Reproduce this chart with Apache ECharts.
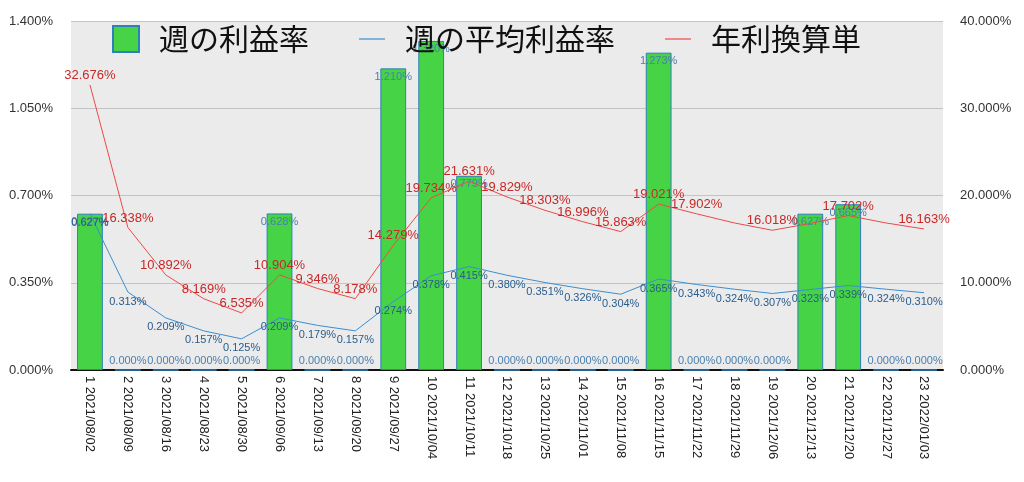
<!DOCTYPE html>
<html>
<head>
<meta charset="utf-8">
<script src="https://cdn.jsdelivr.net/npm/echarts@6/dist/echarts.min.js"></script>
<style>html,body{margin:0;padding:0;background:#fff;}#c{width:1024px;height:482px;}</style>
</head>
<body>
<div id="c"></div>
<script>
const categories = ["1 2021/08/02","2 2021/08/09","3 2021/08/16","4 2021/08/23","5 2021/08/30","6 2021/09/06","7 2021/09/13","8 2021/09/20","9 2021/09/27","10 2021/10/04","11 2021/10/11","12 2021/10/18","13 2021/10/25","14 2021/11/01","15 2021/11/08","16 2021/11/15","17 2021/11/22","18 2021/11/29","19 2021/12/06","20 2021/12/13","21 2021/12/20","22 2021/12/27","23 2022/01/03"];
const weeklyRate = [0.627,0,0,0,0,0.628,0,0,1.210,1.320,0.779,0,0,0,0,1.273,0,0,0,0.627,0.665,0,0];
const averageRate = [0.627,0.313,0.209,0.157,0.125,0.209,0.179,0.157,0.274,0.378,0.415,0.380,0.351,0.326,0.304,0.365,0.343,0.324,0.307,0.323,0.339,0.324,0.310];
const annualRate = [32.676,16.338,10.892,8.169,6.535,10.904,9.346,8.178,14.279,19.734,21.631,19.829,18.303,16.996,15.863,19.021,17.902,16.85,16.018,16.80,17.702,16.85,16.163];
const leftTicks = {min:0, max:1.4, interval:0.35};
const rightTicks = {min:0, max:40, interval:10};
const seriesNames = ["週の利益率","週の平均利益率","年利換算単"];
const hiddenAnnualLabelIdx = [17,19,21];

const numFont = "'Liberation Sans', Arial, Helvetica, sans-serif";
const fmt = v => Number(v).toFixed(3) + '%';
const lineIcon = 'path://M0,0H26V1.2H0Z';

const barData = weeklyRate.map(v => ({
  value: v,
  label: { position: v > 0 ? 'insideTop' : 'top', distance: 3 }
}));
const annualData = annualRate.map((v, i) => ({
  value: v,
  label: { show: hiddenAnnualLabelIdx.indexOf(i) < 0 }
}));

const chart = echarts.init(document.getElementById('c'), null, {renderer:'canvas'});
chart.setOption({
  animation: false,
  backgroundColor: '#ffffff',
  grid: { left: 71, right: 81, top: 21, bottom: 112, show: true, backgroundColor: '#ebebeb', borderWidth: 0, containLabel: false },
  legend: {
    data: [
      { name: seriesNames[0], icon: 'rect' },
      { name: seriesNames[1], icon: lineIcon },
      { name: seriesNames[2], icon: lineIcon }
    ],
    left: 107, top: 19,
    itemWidth: 26, itemHeight: 26, itemGap: 50,
    symbolKeepAspect: true,
    textStyle: { fontSize: 30, color: '#111', fontFamily: "'Noto Sans CJK JP', sans-serif", padding: [0,0,0,15] }
  },
  xAxis: {
    type: 'category', data: categories,
    axisLine: { show: true, lineStyle: { color: '#111', width: 2 } },
    axisTick: { show: false },
    axisLabel: { rotate: -90, interval: 0, fontSize: 13, color: '#222', fontFamily: numFont, margin: 6 },
    splitLine: { show: false }
  },
  yAxis: [
    { type: 'value', min: leftTicks.min, max: leftTicks.max, interval: leftTicks.interval,
      axisLine: { show: false }, axisTick: { show: false },
      axisLabel: { formatter: fmt, fontSize: 13, color: '#333', fontFamily: numFont, margin: 18 },
      splitLine: { show: true, lineStyle: { color: '#c4c4c4', width: 1 } } },
    { type: 'value', min: rightTicks.min, max: rightTicks.max, interval: rightTicks.interval, position: 'right',
      axisLine: { show: false }, axisTick: { show: false },
      axisLabel: { formatter: fmt, fontSize: 13, color: '#333', fontFamily: numFont, margin: 17 },
      splitLine: { show: false } }
  ],
  series: [
    { name: seriesNames[0], type: 'bar', data: barData, yAxisIndex: 0, barWidth: '68%',
      itemStyle: { color: '#46d446', borderColor: '#2f7fba', borderWidth: 1 },
      label: { show: true, formatter: p => fmt(p.value), fontSize: 11, color: '#4a7fae', fontFamily: numFont },
      z: 2 },
    { name: seriesNames[1], type: 'line', data: averageRate, yAxisIndex: 0, symbol: 'circle', symbolSize: 0, showSymbol: true,
      lineStyle: { color: '#3b8fd0', width: 1 }, itemStyle: { color: '#3b8fd0' },
      label: { show: true, position: 'bottom', distance: 4, formatter: p => fmt(p.value), fontSize: 11, color: '#2a5c8c', fontFamily: numFont },
      z: 3 },
    { name: seriesNames[2], type: 'line', data: annualData, yAxisIndex: 1, symbol: 'circle', symbolSize: 0, showSymbol: true,
      lineStyle: { color: '#f04848', width: 1 }, itemStyle: { color: '#f04848' },
      label: { show: true, position: 'top', distance: 3, formatter: p => fmt(p.value), fontSize: 13, color: '#c82828', fontFamily: numFont },
      z: 4 }
  ]
});
</script>
</body>
</html>
